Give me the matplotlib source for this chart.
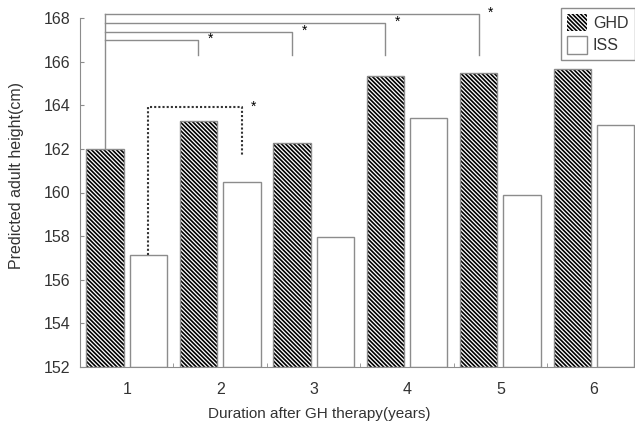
import numpy as np
from matplotlib import pyplot as plt

plt.rcParams['font.family'] = ['Liberation Sans', 'DejaVu Sans']
plt.rcParams['hatch.linewidth'] = 1.2

years = [1, 2, 3, 4, 5, 6]
ghd = [162.0, 163.3, 162.25, 165.35, 165.5, 165.65]
iss = [157.15, 160.5, 157.95, 163.4, 159.9, 163.1]
# comparisons of GHD year 1 against later years (solid brackets)
ghd_compare = [2, 3, 4, 5]
bracket_levels = [167.0, 167.38, 167.78, 168.18]
drop_level = 166.3
# ISS year 1 vs year 2 (dotted bracket)
iss_bracket_top = 163.9
iss_bracket_end = 161.7

gray = '#8c8c8c'
x = np.array(years)
w = 0.40
off = 0.232

fig = plt.figure(figsize=(6.35, 4.28), dpi=100)
ax = fig.add_axes([80 / 635, 61 / 428, 555 / 635, 349 / 428])

ax.bar(x - off, [g - 152 for g in ghd], w, bottom=152, color='white',
       edgecolor='black', hatch='\\' * 8, linewidth=0, label='GHD')
ax.bar(x - off, [g - 152 for g in ghd], w, bottom=152, fill=False,
       edgecolor=gray, linewidth=1.0)
ax.bar(x + off, [i - 152 for i in iss], w, bottom=152, color='white',
       edgecolor=gray, linewidth=1.0, label='ISS')

# solid brackets from GHD year 1
x0 = x[0] - off
ax.plot([x0, x0], [ghd[0], bracket_levels[-1]], color=gray, lw=1.0, clip_on=False)
for yr, lev in zip(ghd_compare, bracket_levels):
    xe = yr - off
    ax.plot([x0, xe, xe], [lev, lev, drop_level], color=gray, lw=1.0, clip_on=False)
    ax.text(xe + 0.13, lev + 0.05, '*', ha='center', va='center', fontsize=10, clip_on=False)

# dotted bracket ISS 1 vs 2
xa = x[0] + off
xb = x[1] + off
ax.plot([xa, xa, xb, xb], [iss[0], iss_bracket_top, iss_bracket_top, iss_bracket_end],
        color='#333333', lw=1.5, ls=(0, (1, 1)))
ax.text(xb + 0.12, iss_bracket_top + 0.05, '*', ha='center', va='center', fontsize=10)

ax.set_xlim(0.5, 6.44)
ax.set_ylim(152, 168)
ax.set_yticks(np.arange(152, 169, 2))
ax.set_xticks(years)
ax.set_xticks(np.arange(1.5, 6, 1), minor=True)
ax.tick_params(axis='x', which='major', length=0, pad=11, labelsize=11.5, labelcolor='#333333')
ax.tick_params(axis='x', which='minor', direction='in', length=3, color=gray)
ax.tick_params(axis='y', direction='in', length=3, color=gray, pad=7, labelsize=11.5,
               labelcolor='#333333')

for s in ['top', 'right']:
    ax.spines[s].set_visible(False)
for s in ['left', 'bottom']:
    ax.spines[s].set_color(gray)

ax.set_ylabel('Predicted adult height(cm)', fontsize=11.5, color='#333333')
ax.yaxis.set_label_coords(-56 / 555, 0.55)
ax.set_xlabel('Duration after GH therapy(years)', fontsize=11, color='#333333')
ax.xaxis.set_label_coords(239 / 555, -40 / 349)

leg = ax.legend(loc='upper left', bbox_to_anchor=(481 / 555, 1.03), fontsize=11.5,
                fancybox=False, framealpha=1, edgecolor=gray, handlelength=1.2,
                handleheight=1.3, handletextpad=0.4, borderpad=0.4, labelspacing=0.3,
                borderaxespad=0)
for t in leg.get_texts():
    t.set_color('#333333')

fig.savefig('out.png', dpi=100)
